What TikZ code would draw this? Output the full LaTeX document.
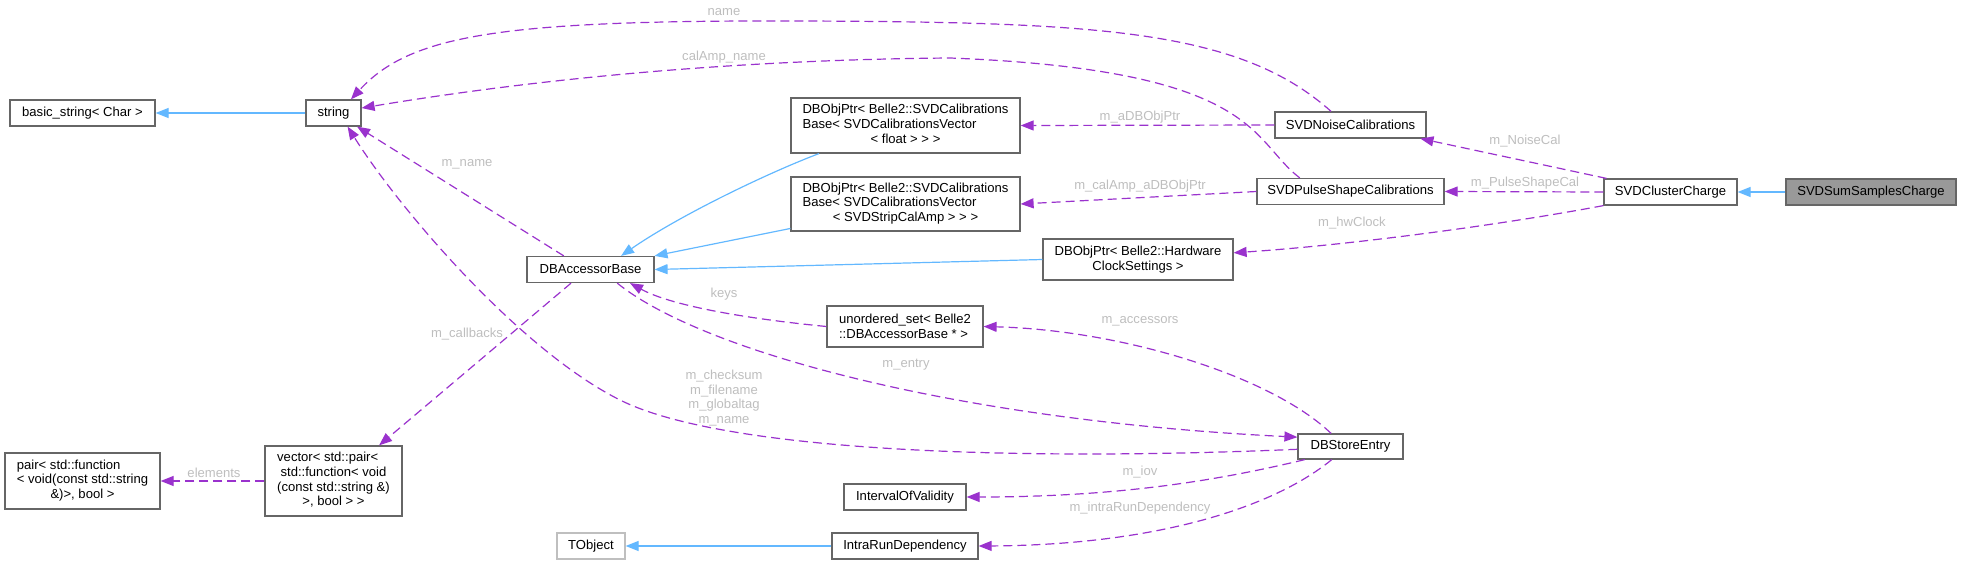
\documentclass[tikz,border=0pt]{standalone}
\usepackage{fontspec}
\setmainfont{Liberation Sans}
\definecolor{usepurple}{HTML}{9A32CD}
\definecolor{inhblue}{HTML}{63B8FF}
\definecolor{boxgrey}{HTML}{666666}
\definecolor{lblgrey}{HTML}{BEBEBE}
\definecolor{curgrey}{HTML}{999999}
\definecolor{extgrey}{HTML}{BFBFBF}
\usetikzlibrary{arrows.meta}
\newcommand{\dgfont}{\fontsize{13.07}{14.7}\selectfont}
\newcommand{\lastrow}[1]{\multicolumn{1}{@{}c@{}}{#1}}

\begin{document}
\begin{tikzpicture}[x=1pt, y=-1pt,
    cls/.style={draw=boxgrey, fill=white, line width=1.2pt, inner sep=0pt, font=\dgfont, minimum height=26pt},
    cur/.style={cls, fill=curgrey},
    ext/.style={cls, draw=extgrey},
    elabel/.style={text=lblgrey, font=\dgfont, inner sep=0pt},
    use/.style={draw=usepurple, line width=1.2pt, dash pattern=on 9pt off 5pt, -{Triangle[length=13pt, width=10pt]}},
    inh/.style={draw=inhblue, line width=1.2pt, -{Triangle[length=13pt, width=10pt]}}]
  \useasboundingbox (0,0) rectangle (1961,565);

  % std types
  \node[cls, minimum width=145pt] (bstr) at (82.5,113) {basic\_string< Char >};
  \node[cls, minimum width=55pt] (str) at (333.5,113) {string};
  \node[cls, minimum width=155pt, minimum height=56pt] (pair) at (82.5,481) {\begin{tabular}{@{}l@{}}pair< std::function\\< void(const std::string\\\lastrow{\&)>, bool >}\end{tabular}};
  \node[cls, minimum width=137pt, minimum height=70pt] (vec) at (333.5,481) {\begin{tabular}{@{}c@{}}\multicolumn{1}{@{}l@{}}{vector< std::pair<}\\std::function< void\\(const std::string \&)\\>, bool > >\end{tabular}};

  % Accessors
  \node[cls, minimum width=127pt] (dbab) at (590.5,269.5) {DBAccessorBase};
  \node[ext, minimum width=68pt] (tobj) at (591,546) {TObject};
  \node[cls, minimum width=229pt, minimum height=55pt] (dbobjf) at (905.5,125.5) {\begin{tabular}{@{}l@{}}DBObjPtr< Belle2::SVDCalibrations\\Base< SVDCalibrationsVector\\\lastrow{< float > > >}\end{tabular}};
  \node[cls, minimum width=229pt, minimum height=54pt] (dbobjs) at (905.5,204) {\begin{tabular}{@{}l@{}}DBObjPtr< Belle2::SVDCalibrations\\Base< SVDCalibrationsVector\\\lastrow{< SVDStripCalAmp > > >}\end{tabular}};
  \node[cls, minimum width=156pt, minimum height=41pt, align=left] (uset) at (905,326.5) {unordered\_set< Belle2\\::DBAccessorBase * >};
  \node[cls, minimum width=122pt] (iov) at (905,497) {IntervalOfValidity};
  \node[cls, minimum width=146pt] (intra) at (905,546) {IntraRunDependency};
  \node[cls, minimum width=190pt, minimum height=41pt, align=center] (hwclk) at (1138,259.5) {DBObjPtr< Belle2::Hardware\\ClockSettings >};

  % Calibrations and store
  \node[cls, minimum width=151pt] (noise) at (1350.5,125) {SVDNoiseCalibrations};
  \node[cls, minimum width=187pt] (pulse) at (1350.5,191.5) {SVDPulseShapeCalibrations};
  \node[cls, minimum width=105pt, minimum height=25pt] (store) at (1350.5,446.5) {DBStoreEntry};
  \node[cls, minimum width=133pt] (clch) at (1670.5,192) {SVDClusterCharge};
  \node[cur, minimum width=170pt] (sumsc) at (1871,192) {SVDSumSamplesCharge};

  % Inheritance
  \draw[inh] (str.west) -- (bstr.east);
  \draw[inh] (sumsc.west) -- (clch.east);
  \draw[inh] (intra.west) -- (tobj.east);
  \draw[inh] (hwclk.west) -- (dbab.east);
  \draw[inh] (dbobjs.192) -- (dbab.12);
  \draw[inh] (dbobjf.198) .. controls (770,172) and (680,215) .. (dbab.24);

  % Usage
  \draw[use] (noise.145) .. controls (1240,30) and (1100,22) .. (800,21) .. controls (500,20) and (410,35) .. (str.38);
  \node[elabel] (lname) at (724,12) {name};
  \draw[use] (pulse.165) .. controls (1250,140) and (1260,70) .. (950,58) .. controls (700,60) and (500,85) .. (str.10);
  \node[elabel] (lcal) at (724,57) {calAmp\_name};
  \draw[use] (noise.west) -- (dbobjf.east);
  \node[elabel] (laobj) at (1140,117) {m\_aDBObjPtr};
  \draw[use] (pulse.west) -- (dbobjs.east);
  \node[elabel] (lcaobj) at (1140,186) {m\_calAmp\_aDBObjPtr};
  \draw[use] (dbab.153) -- (str.330);
  \node[elabel] (lmname) at (467,164) {m\_name};
  \draw[use] (clch.168) -- (noise.349);
  \node[elabel] (lnoise) at (1525,141) {m\_NoiseCal};
  \draw[use] (clch.west) -- (pulse.east);
  \node[elabel] (lpulse) at (1525,183) {m\_PulseShapeCal};
  \draw[use] (clch.south west) .. controls (1500,225) and (1350,245) .. (hwclk.4);
  \node[elabel] (lhw) at (1352,223) {m\_hwClock};
  \draw[use] (uset.west) .. controls (740,318) and (670,305) .. (dbab.341);
  \node[elabel] (lkeys) at (724,294) {keys};
  \draw[use] (dbab.215) -- (vec.38);
  \node[elabel] (lcb) at (467,334) {m\_callbacks};
  \draw[use] (vec.west) -- (pair.east);
  \node[elabel] (lel) at (214,473) {elements};
  \draw[use] (store.146) .. controls (1270,375) and (1120,330) .. (uset.east);
  \node[elabel] (lacc) at (1140,321) {m\_accessors};
  \draw[use] (dbab.333) .. controls (700,350) and (950,420) .. (store.170);
  \node[elabel] (lentry) at (906,365) {m\_entry};
  \draw[use] (store.183) .. controls (1000,462) and (720,450) .. (620,400) .. controls (520,350) and (400,210) .. (str.316);
  \node[elabel, align=center] (lchk) at (724,398) {m\_checksum\\m\_filename\\m\_globaltag\\m\_name};
  \draw[use] (store.196) .. controls (1220,480) and (1120,497) .. (iov.east);
  \node[elabel] (liov) at (1140,472) {m\_iov};
  \draw[use] (store.215) .. controls (1270,510) and (1150,545) .. (intra.east);
  \node[elabel] (lintra) at (1140,508) {m\_intraRunDependency};
\end{tikzpicture}
\end{document}
